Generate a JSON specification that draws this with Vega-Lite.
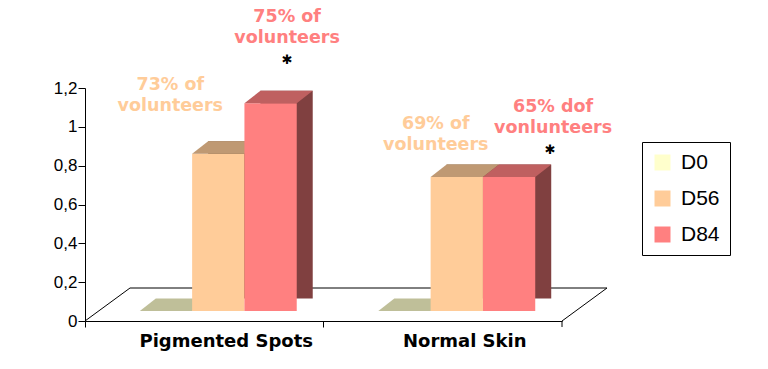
{
  "$schema": "https://vega.github.io/schema/vega-lite/v6.json",
  "autosize": "none",
  "width": 477,
  "height": 233,
  "padding": {"left": 85, "top": 88, "right": 206, "bottom": 48},
  "background": "white",
  "data": {"values": [
    {"category": "Pigmented Spots", "series": "D0", "value": 0},
    {"category": "Pigmented Spots", "series": "D56", "value": 0.81},
    {"category": "Pigmented Spots", "series": "D84", "value": 1.07},
    {"category": "Normal Skin", "series": "D0", "value": 0},
    {"category": "Normal Skin", "series": "D56", "value": 0.69},
    {"category": "Normal Skin", "series": "D84", "value": 0.69}
  ]},
  "config": {"view": {"stroke": null}},
  "resolve": {"scale": {"x": "independent"}},
  "layer": [
    {
      "data": {"values": [{}]},
      "layer": [
        {"mark": {"type": "rule", "color": "black", "strokeWidth": 1, "x2Offset": 45, "y2Offset": -33},
         "encoding": {"x": {"datum": 0, "type": "quantitative", "scale": {"domain": [0, 1]}, "axis": null}, "x2": {"datum": 0},
                      "y": {"datum": 0, "type": "quantitative", "scale": {"domain": [0, 1.2], "nice": false, "zero": true},
                            "axis": {"title": null, "values": [0, 0.2, 0.4, 0.6, 0.8, 1, 1.2], "tickCount": 7, "labelOverlap": false, "labelExpr": "replace(format(datum.value, '~g'), '.', ',')", "domainColor": "black", "tickColor": "black", "tickSize": 7, "labelColor": "black", "labelFont": "Liberation Sans", "labelFontSize": 17, "labelPadding": 1, "grid": false}},
                      "y2": {"datum": 0}}},
        {"mark": {"type": "rule", "color": "black", "strokeWidth": 1, "xOffset": 45, "x2Offset": 45, "yOffset": -33},
         "encoding": {"x": {"datum": 0, "type": "quantitative", "scale": {"domain": [0, 1]}, "axis": null}, "x2": {"datum": 1}, "y": {"datum": 0, "type": "quantitative"}}},
        {"mark": {"type": "rule", "color": "black", "strokeWidth": 1, "x2Offset": 45, "y2Offset": -33},
         "encoding": {"x": {"datum": 1, "type": "quantitative", "scale": {"domain": [0, 1]}, "axis": null}, "x2": {"datum": 1}, "y": {"datum": 0, "type": "quantitative"}, "y2": {"datum": 0}}},
        {"mark": {"type": "rule", "color": "black", "strokeWidth": 1, "y2Offset": 6},
         "encoding": {"x": {"datum": 1, "type": "quantitative", "scale": {"domain": [0, 1]}, "axis": null}, "y": {"datum": 0, "type": "quantitative"}, "y2": {"datum": 0}}}
      ]
    },
    {
      "resolve": {"scale": {"xOffset": "independent"}},
      "layer": [
        {
          "transform": [{"filter": "datum.series == 'D0'"}],
          "mark": {"type": "point", "filled": true, "opacity": 1, "strokeWidth": 0, "color": "#bfbf99", "shape": "M-0.769,0L0.769,0L1.240,-0.368L-0.299,-0.368Z", "size": 4624, "yOffset": -10},
          "encoding": {
            "x": {"field": "category", "type": "nominal", "sort": ["Pigmented Spots", "Normal Skin"], "scale": {"domain": ["Pigmented Spots", "Normal Skin"], "paddingInner": 0, "paddingOuter": 0},
                  "axis": {"title": null, "bandPosition": 0, "labelOffset": 22, "labelAngle": 0, "domainColor": "black", "tickColor": "black", "tickSize": 6, "labelColor": "black", "labelFont": "DejaVu Sans", "labelFontWeight": "bold", "labelFontSize": 18, "labelPadding": 5, "grid": false}},
            "xOffset": {"field": "series", "type": "nominal", "scale": {"type": "band", "domain": ["D0", "D56", "D84"], "paddingInner": 0, "paddingOuter": 0.78, "align": 0.672}},
            "y": {"field": "value", "type": "quantitative", "stack": null, "scale": {"domain": [0, 1.2], "nice": false, "zero": true},
                  "axis": {"title": null, "values": [0, 0.2, 0.4, 0.6, 0.8, 1, 1.2], "tickCount": 7, "labelOverlap": false, "labelExpr": "replace(format(datum.value, '~g'), '.', ',')", "domainColor": "black", "tickColor": "black", "tickSize": 7, "labelColor": "black", "labelFont": "Liberation Sans", "labelFontSize": 17, "labelPadding": 1, "grid": false}}
          }
        },
        {
          "transform": [{"filter": "datum.series == 'D56'"}],
          "mark": {"type": "bar", "color": "#806040", "yOffset": -22.5, "y2Offset": -22.5},
          "encoding": {
            "x": {"field": "category", "type": "nominal", "sort": ["Pigmented Spots", "Normal Skin"], "scale": {"domain": ["Pigmented Spots", "Normal Skin"], "paddingInner": 0, "paddingOuter": 0}},
            "xOffset": {"field": "series", "type": "nominal", "scale": {"type": "band", "domain": ["D0", "D56", "D84"], "paddingInner": 0, "paddingOuter": 0.78, "align": 0.868}},
            "y": {"field": "value", "type": "quantitative", "stack": null, "title": null},
            "y2": {"datum": 0}
          }
        },
        {
          "transform": [{"filter": "datum.series == 'D56'"}],
          "mark": {"type": "bar", "yOffset": -10, "y2Offset": -10},
          "encoding": {
            "x": {"field": "category", "type": "nominal", "sort": ["Pigmented Spots", "Normal Skin"], "scale": {"domain": ["Pigmented Spots", "Normal Skin"], "paddingInner": 0, "paddingOuter": 0}},
            "xOffset": {"field": "series", "type": "nominal", "scale": {"type": "band", "domain": ["D0", "D56", "D84"], "paddingInner": 0, "paddingOuter": 0.78, "align": 0.672}},
            "y": {"field": "value", "type": "quantitative", "stack": null, "title": null},
            "y2": {"datum": 0},
            "color": {"field": "series", "type": "nominal", "scale": {"domain": ["D0", "D56", "D84"], "range": ["#ffffcc", "#ffcc99", "#ff8080"]},
                      "legend": {"title": null, "orient": "none", "legendX": 557, "legendY": 54, "padding": 10, "strokeColor": "black", "fillColor": "white", "symbolType": "square", "symbolSize": 256, "symbolStrokeWidth": 0, "symbolOpacity": 1, "labelFont": "Liberation Sans", "labelFontSize": 21, "labelColor": "black", "labelOffset": 8, "rowPadding": 14}}
          }
        },
        {
          "transform": [{"filter": "datum.series == 'D56'"}],
          "mark": {"type": "point", "filled": true, "opacity": 1, "strokeWidth": 0, "color": "#bf9973", "shape": "M-0.769,0L0.769,0L1.240,-0.368L-0.299,-0.368Z", "size": 4624, "yOffset": -10},
          "encoding": {
            "x": {"field": "category", "type": "nominal", "sort": ["Pigmented Spots", "Normal Skin"], "scale": {"domain": ["Pigmented Spots", "Normal Skin"], "paddingInner": 0, "paddingOuter": 0}},
            "xOffset": {"field": "series", "type": "nominal", "scale": {"type": "band", "domain": ["D0", "D56", "D84"], "paddingInner": 0, "paddingOuter": 0.78, "align": 0.672}},
            "y": {"field": "value", "type": "quantitative", "stack": null, "title": null}
          }
        },
        {
          "transform": [{"filter": "datum.series == 'D84'"}],
          "mark": {"type": "bar", "color": "#804040", "yOffset": -22.5, "y2Offset": -22.5},
          "encoding": {
            "x": {"field": "category", "type": "nominal", "sort": ["Pigmented Spots", "Normal Skin"], "scale": {"domain": ["Pigmented Spots", "Normal Skin"], "paddingInner": 0, "paddingOuter": 0}},
            "xOffset": {"field": "series", "type": "nominal", "scale": {"type": "band", "domain": ["D0", "D56", "D84"], "paddingInner": 0, "paddingOuter": 0.78, "align": 0.868}},
            "y": {"field": "value", "type": "quantitative", "stack": null, "title": null},
            "y2": {"datum": 0}
          }
        },
        {
          "transform": [{"filter": "datum.series == 'D84'"}],
          "mark": {"type": "bar", "yOffset": -10, "y2Offset": -10},
          "encoding": {
            "x": {"field": "category", "type": "nominal", "sort": ["Pigmented Spots", "Normal Skin"], "scale": {"domain": ["Pigmented Spots", "Normal Skin"], "paddingInner": 0, "paddingOuter": 0}},
            "xOffset": {"field": "series", "type": "nominal", "scale": {"type": "band", "domain": ["D0", "D56", "D84"], "paddingInner": 0, "paddingOuter": 0.78, "align": 0.672}},
            "y": {"field": "value", "type": "quantitative", "stack": null, "title": null},
            "y2": {"datum": 0},
            "color": {"field": "series", "type": "nominal", "scale": {"domain": ["D0", "D56", "D84"], "range": ["#ffffcc", "#ffcc99", "#ff8080"]}}
          }
        },
        {
          "transform": [{"filter": "datum.series == 'D84'"}],
          "mark": {"type": "point", "filled": true, "opacity": 1, "strokeWidth": 0, "color": "#bf6060", "shape": "M-0.769,0L0.769,0L1.240,-0.368L-0.299,-0.368Z", "size": 4624, "yOffset": -10},
          "encoding": {
            "x": {"field": "category", "type": "nominal", "sort": ["Pigmented Spots", "Normal Skin"], "scale": {"domain": ["Pigmented Spots", "Normal Skin"], "paddingInner": 0, "paddingOuter": 0}},
            "xOffset": {"field": "series", "type": "nominal", "scale": {"type": "band", "domain": ["D0", "D56", "D84"], "paddingInner": 0, "paddingOuter": 0.78, "align": 0.672}},
            "y": {"field": "value", "type": "quantitative", "stack": null, "title": null}
          }
        },
        {
          "transform": [{"filter": "datum.category == 'Pigmented Spots' && datum.series == 'D56'"}],
          "mark": {"type": "text", "text": ["73% of", "volunteers"], "font": "DejaVu Sans", "fontWeight": "bold", "fontSize": 17.5, "lineHeight": 21, "color": "#ffcc99", "align": "center", "baseline": "alphabetic", "dx": -48, "dy": -73.7},
          "encoding": {
            "x": {"field": "category", "type": "nominal", "sort": ["Pigmented Spots", "Normal Skin"], "scale": {"domain": ["Pigmented Spots", "Normal Skin"], "paddingInner": 0, "paddingOuter": 0}},
            "xOffset": {"field": "series", "type": "nominal", "scale": {"type": "band", "domain": ["D0", "D56", "D84"], "paddingInner": 0, "paddingOuter": 0.78, "align": 0.672}},
            "y": {"field": "value", "type": "quantitative", "stack": null, "title": null}
          }
        },
        {
          "transform": [{"filter": "datum.category == 'Pigmented Spots' && datum.series == 'D84'"}],
          "mark": {"type": "text", "text": ["75% of", "volunteers"], "font": "DejaVu Sans", "fontWeight": "bold", "fontSize": 17.5, "lineHeight": 21, "color": "#ff8080", "align": "center", "baseline": "alphabetic", "dx": 16.5, "dy": -91.2},
          "encoding": {
            "x": {"field": "category", "type": "nominal", "sort": ["Pigmented Spots", "Normal Skin"], "scale": {"domain": ["Pigmented Spots", "Normal Skin"], "paddingInner": 0, "paddingOuter": 0}},
            "xOffset": {"field": "series", "type": "nominal", "scale": {"type": "band", "domain": ["D0", "D56", "D84"], "paddingInner": 0, "paddingOuter": 0.78, "align": 0.672}},
            "y": {"field": "value", "type": "quantitative", "stack": null, "title": null}
          }
        },
        {
          "transform": [{"filter": "datum.category == 'Pigmented Spots' && datum.series == 'D84'"}],
          "mark": {"type": "text", "text": "✱", "font": "DejaVu Sans", "fontWeight": "bold", "fontSize": 13, "color": "black", "align": "center", "baseline": "middle", "dx": 16.5, "dy": -53.2},
          "encoding": {
            "x": {"field": "category", "type": "nominal", "sort": ["Pigmented Spots", "Normal Skin"], "scale": {"domain": ["Pigmented Spots", "Normal Skin"], "paddingInner": 0, "paddingOuter": 0}},
            "xOffset": {"field": "series", "type": "nominal", "scale": {"type": "band", "domain": ["D0", "D56", "D84"], "paddingInner": 0, "paddingOuter": 0.78, "align": 0.672}},
            "y": {"field": "value", "type": "quantitative", "stack": null, "title": null}
          }
        },
        {
          "transform": [{"filter": "datum.category == 'Normal Skin' && datum.series == 'D56'"}],
          "mark": {"type": "text", "text": ["69% of", "volunteers"], "font": "DejaVu Sans", "fontWeight": "bold", "fontSize": 17.5, "lineHeight": 21, "color": "#ffcc99", "align": "center", "baseline": "alphabetic", "dx": -21, "dy": -57.7},
          "encoding": {
            "x": {"field": "category", "type": "nominal", "sort": ["Pigmented Spots", "Normal Skin"], "scale": {"domain": ["Pigmented Spots", "Normal Skin"], "paddingInner": 0, "paddingOuter": 0}},
            "xOffset": {"field": "series", "type": "nominal", "scale": {"type": "band", "domain": ["D0", "D56", "D84"], "paddingInner": 0, "paddingOuter": 0.78, "align": 0.672}},
            "y": {"field": "value", "type": "quantitative", "stack": null, "title": null}
          }
        },
        {
          "transform": [{"filter": "datum.category == 'Normal Skin' && datum.series == 'D84'"}],
          "mark": {"type": "text", "text": ["65% dof", "vonlunteers"], "font": "DejaVu Sans", "fontWeight": "bold", "fontSize": 17.5, "lineHeight": 21, "color": "#ff8080", "align": "center", "baseline": "alphabetic", "dx": 44, "dy": -75.3},
          "encoding": {
            "x": {"field": "category", "type": "nominal", "sort": ["Pigmented Spots", "Normal Skin"], "scale": {"domain": ["Pigmented Spots", "Normal Skin"], "paddingInner": 0, "paddingOuter": 0}},
            "xOffset": {"field": "series", "type": "nominal", "scale": {"type": "band", "domain": ["D0", "D56", "D84"], "paddingInner": 0, "paddingOuter": 0.78, "align": 0.672}},
            "y": {"field": "value", "type": "quantitative", "stack": null, "title": null}
          }
        },
        {
          "transform": [{"filter": "datum.category == 'Normal Skin' && datum.series == 'D84'"}],
          "mark": {"type": "text", "text": "✱", "font": "DejaVu Sans", "fontWeight": "bold", "fontSize": 13, "color": "black", "align": "center", "baseline": "middle", "dx": 41, "dy": -37},
          "encoding": {
            "x": {"field": "category", "type": "nominal", "sort": ["Pigmented Spots", "Normal Skin"], "scale": {"domain": ["Pigmented Spots", "Normal Skin"], "paddingInner": 0, "paddingOuter": 0}},
            "xOffset": {"field": "series", "type": "nominal", "scale": {"type": "band", "domain": ["D0", "D56", "D84"], "paddingInner": 0, "paddingOuter": 0.78, "align": 0.672}},
            "y": {"field": "value", "type": "quantitative", "stack": null, "title": null}
          }
        }
      ]
    }
  ]
}
